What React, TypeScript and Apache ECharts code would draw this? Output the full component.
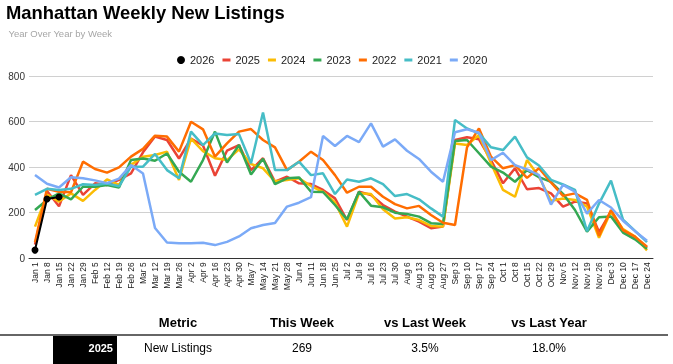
import React, { useEffect, useRef } from "react";
import * as echarts from "echarts";

const weeks = ["Jan 1","Jan 8","Jan 15","Jan 22","Jan 29","Feb 5","Feb 12","Feb 19","Feb 26","Mar 5","Mar 12","Mar 19","Mar 26","Apr 2","Apr 9","Apr 16","Apr 23","Apr 30","May 7","May 14","May 21","May 28","Jun 4","Jun 11","Jun 18","Jun 25","Jul 2","Jul 9","Jul 16","Jul 23","Jul 30","Aug 6","Aug 13","Aug 20","Aug 27","Sep 3","Sep 10","Sep 17","Sep 24","Oct 1","Oct 8","Oct 15","Oct 22","Oct 29","Nov 5","Nov 12","Nov 19","Nov 26","Dec 3","Dec 10","Dec 17","Dec 24"];

const seriesNames = ["2026", "2025", "2024", "2023", "2022", "2021", "2020"];
const seriesColors = ["#000000", "#EA4335", "#FBBC04", "#34A853", "#FF6D01", "#46BDC6", "#7BAAF7"];

const y2026 = [36, 260, 269];
const y2025 = [60,295,228,365,278,329,322,344,373,465,534,519,438,525,495,362,472,497,387,439,336,358,329,326,300,263,168,292,278,234,205,183,161,132,139,519,531,522,431,329,395,303,308,285,227,249,241,115,205,117,88,47];
const y2024 = [139,280,249,285,252,300,346,322,410,446,453,468,344,525,470,439,431,478,414,395,338,344,351,317,292,245,139,285,282,215,175,180,168,142,139,504,497,541,417,300,270,431,358,252,262,256,227,90,205,128,95,35];
const y2023 = [212,256,285,259,314,314,322,311,431,438,428,460,380,336,431,556,420,497,368,437,325,351,355,292,291,234,171,292,231,224,200,194,183,154,151,515,519,461,402,376,336,387,356,335,283,212,117,180,183,113,83,42];
const y2022 = [70,305,292,290,424,392,376,399,446,480,538,534,468,599,566,446,504,556,567,519,487,387,424,468,431,365,288,314,314,270,238,219,230,190,156,146,487,570,446,395,409,353,395,333,274,285,256,98,212,124,95,51];
const y2021 = [278,305,300,305,325,322,328,316,402,402,458,387,351,556,497,548,541,545,417,640,387,387,424,365,373,282,346,336,351,326,273,282,259,219,183,607,570,548,487,475,534,443,407,344,324,300,119,240,341,170,120,71];
const y2020 = [366,327,311,356,351,342,330,350,409,372,133,69,66,66,68,58,72,96,132,146,155,227,244,268,537,493,537,510,592,490,522,472,436,380,336,553,566,551,431,463,409,390,365,236,322,292,196,256,223,165,119,77];

const seriesData = [y2026, y2025, y2024, y2023, y2022, y2021, y2020];

const tableHeaders = ["Metric", "This Week", "vs Last Week", "vs Last Year"];
const tableRowLabel = "2025";
const tableRow = ["New Listings", "269", "3.5%", "18.0%"];

const FONT = "'Liberation Sans', Arial, sans-serif";
const LINE_ICON = "path://M0,0 M0,2.5 L8,2.5 L8,5.5 L0,5.5 Z M8,8";

export default function App() {
  const ref = useRef<HTMLDivElement>(null);
  useEffect(() => {
    document.body.style.margin = "0";
    const chart = echarts.init(ref.current!, null, { renderer: "svg" });
    const colX = [178, 302, 425, 549];
    const graphic: any[] = [
      { type: "text", x: 6, y: 12.5, style: { text: "Manhattan Weekly New Listings", font: `bold 18.4px ${FONT}`, fill: "#000", align: "left", verticalAlign: "middle", textAlign: "left", textVerticalAlign: "middle" } },
      { type: "text", x: 8.5, y: 33.3, style: { text: "Year Over Year by Week", font: `9.5px ${FONT}`, fill: "#a6a6a6", align: "left", verticalAlign: "middle", textAlign: "left", textVerticalAlign: "middle" } },
      { type: "line", shape: { x1: 0, y1: 335, x2: 668, y2: 335 }, style: { stroke: "#333", lineWidth: 1.5 } },
      { type: "rect", shape: { x: 53, y: 336, width: 64, height: 28 }, style: { fill: "#000" } },
      { type: "text", x: 113, y: 348, style: { text: tableRowLabel, font: `bold 11px ${FONT}`, fill: "#fff", align: "right", verticalAlign: "middle", textAlign: "right", textVerticalAlign: "middle" } },
    ];
    tableHeaders.forEach((h, i) => {
      graphic.push({ type: "text", x: colX[i], y: 322, style: { text: h, font: `bold 13px ${FONT}`, fill: "#000", align: "center", verticalAlign: "middle", textAlign: "center", textVerticalAlign: "middle" } });
    });
    tableRow.forEach((h, i) => {
      graphic.push({ type: "text", x: colX[i], y: 348, style: { text: h, font: `12px ${FONT}`, fill: "#000", align: "center", verticalAlign: "middle", textAlign: "center", textVerticalAlign: "middle" } });
    });

    chart.setOption({
      animation: false,
      textStyle: { fontFamily: FONT },
      legend: {
        left: 172,
        top: 49.5,
        itemWidth: 8,
        itemHeight: 8,
        itemGap: 8,
        textStyle: { fontSize: 11, color: "#222", fontFamily: FONT },
        data: seriesNames.map((n, i) => ({ name: n, icon: i === 0 ? "circle" : LINE_ICON })),
      },
      grid: { left: 29, top: 76, width: 624, height: 182.3, containLabel: false },
      xAxis: {
        type: "category",
        data: weeks,
        boundaryGap: true,
        axisLine: { lineStyle: { color: "#333", width: 1 } },
        axisTick: { show: false },
        axisLabel: { rotate: 90, interval: 0, fontSize: 8.5, color: "#222", margin: 4, fontFamily: FONT },
      },
      yAxis: {
        type: "value",
        min: 0,
        max: 800,
        interval: 200,
        axisLine: { show: false },
        axisTick: { show: false },
        axisLabel: { fontSize: 10, color: "#333", margin: 4, fontFamily: FONT },
        splitLine: { lineStyle: { color: "#d0d0d0", width: 1 } },
      },
      series: seriesNames.map((n, i) => ({
        name: n,
        type: "line",
        data: seriesData[i],
        color: seriesColors[i],
        z: i === 0 ? 5 : 2,
        showSymbol: i === 0,
        symbol: "circle",
        symbolSize: 7,
        lineStyle: { width: i === 0 ? 2 : 2.5, color: seriesColors[i] },
        itemStyle: { color: seriesColors[i] },
      })),
      graphic,
    });
    return () => chart.dispose();
  }, []);
  return <div ref={ref} style={{ position: "fixed", left: 0, top: 0, width: 673, height: 364 }} />;
}
